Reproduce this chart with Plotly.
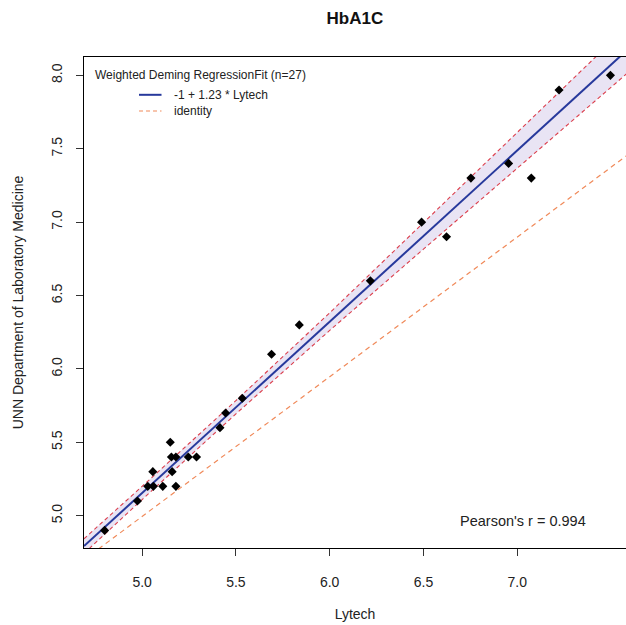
import plotly.graph_objects as go

# ---- data ----
lytech = [4.80, 4.975, 5.03, 5.06, 5.057, 5.11, 5.15, 5.156, 5.18, 5.16, 5.18,
          5.246, 5.29, 5.415, 5.445, 5.534, 5.69, 5.838, 6.217, 6.49, 6.623,
          6.753, 6.954, 7.075, 7.223, 7.497]
unn = [4.9, 5.1, 5.2, 5.2, 5.3, 5.2, 5.5, 5.4, 5.4, 5.3, 5.2,
       5.4, 5.4, 5.6, 5.7, 5.8, 6.1, 6.3, 6.6, 7.0, 6.9,
       7.3, 7.4, 7.3, 7.9, 8.0]

band_x = [4.69, 5.0, 5.5, 6.0, 6.5, 7.0, 7.6]
fit_y = [4.793, 5.155, 5.739, 6.322, 6.906, 7.489, 8.189]
band_upper = [4.843, 5.200, 5.784, 6.382, 6.996, 7.609, 8.349]
band_lower = [4.743, 5.110, 5.694, 6.262, 6.816, 7.369, 8.029]
identity_x = [4.69, 7.58]
identity_y = [4.70, 7.45]

x_ticks = [5.0, 5.5, 6.0, 6.5, 7.0]
y_ticks = [5.0, 5.5, 6.0, 6.5, 7.0, 7.5, 8.0]

title = "HbA1C"
x_title = "Lytech"
y_title = "UNN Department of Laboratory Medicine"
legend_title = "Weighted Deming RegressionFit (n=27)"
fit_label = "-1 + 1.23 * Lytech"
identity_label = "identity"
pearson_label = "Pearson's r = 0.994"

FONT = "Liberation Sans, Arial, sans-serif"
BLUE = "#27399c"
RED = "rgba(215,30,45,0.85)"
ORANGE = "#f08a5a"
FILL = "rgba(215,205,235,0.55)"

fig = go.Figure()

# confidence band fill
fig.add_trace(go.Scatter(x=band_x + band_x[::-1], y=band_upper + band_lower[::-1],
                         fill="toself", fillcolor=FILL, line=dict(width=0),
                         mode="lines", hoverinfo="skip", showlegend=False))
# CI lines
fig.add_trace(go.Scatter(x=band_x, y=band_upper, mode="lines",
                         line=dict(color=RED, width=1.1, dash="4px,3px"), showlegend=False))
fig.add_trace(go.Scatter(x=band_x, y=band_lower, mode="lines",
                         line=dict(color=RED, width=1.1, dash="4px,3px"), showlegend=False))
# identity
fig.add_trace(go.Scatter(x=identity_x, y=identity_y, mode="lines",
                         line=dict(color=ORANGE, width=1.2, dash="5px,4px"), showlegend=False))
# fit
fig.add_trace(go.Scatter(x=band_x, y=fit_y, mode="lines",
                         line=dict(color=BLUE, width=2), showlegend=False))
# points
fig.add_trace(go.Scatter(x=lytech, y=unn, mode="markers",
                         marker=dict(symbol="diamond", size=7, color="black"),
                         showlegend=False))

# manual legend (R-style)
fig.add_annotation(xref="paper", yref="paper", x=0.0166, y=0.963, xanchor="left", yanchor="middle",
                   text=legend_title, showarrow=False, font=dict(size=12, color="#222", family=FONT))
fig.add_shape(type="line", xref="paper", yref="paper", x0=0.1015, x1=0.1430, y0=0.923, y1=0.923,
              line=dict(color=BLUE, width=2))
fig.add_annotation(xref="paper", yref="paper", x=0.163, y=0.923, xanchor="left", yanchor="middle",
                   text=fit_label, showarrow=False, font=dict(size=12, color="#222", family=FONT))
fig.add_shape(type="line", xref="paper", yref="paper", x0=0.1015, x1=0.1430, y0=0.890, y1=0.890,
              line=dict(color=ORANGE, width=1.2, dash="4px,3px"))
fig.add_annotation(xref="paper", yref="paper", x=0.163, y=0.890, xanchor="left", yanchor="middle",
                   text=identity_label, showarrow=False, font=dict(size=12, color="#222", family=FONT))

fig.add_annotation(xref="paper", yref="paper", x=0.929, y=0.056, xanchor="right", yanchor="middle",
                   text=pearson_label, showarrow=False, font=dict(size=14.5, color="#222", family=FONT))

fig.update_layout(
    width=626, height=625,
    margin=dict(l=84, r=0, t=57, b=77),
    paper_bgcolor="white", plot_bgcolor="white",
    font=dict(family=FONT, color="#222", size=14),
    title=dict(text="<b>" + title + "</b>", x=0.567, xanchor="center",
               y=0.971, yanchor="middle", font=dict(size=17, color="#111", family=FONT)),
    showlegend=False,
)
fig.update_xaxes(range=[4.69, 7.58], tickvals=x_ticks, ticktext=[f"{v:.1f}" for v in x_ticks],
                 showgrid=False, zeroline=False, showline=True, linecolor="black", linewidth=1,
                 mirror=True, ticks="outside", ticklen=7, tickcolor="#333",
                 ticklabelstandoff=14, tickfont=dict(size=14, color="#222"),
                 title=dict(text=x_title, standoff=20, font=dict(size=14, color="#222")))
fig.update_yaxes(range=[4.78, 8.125], tickvals=y_ticks, ticktext=[f"{v:.1f}" for v in y_ticks],
                 showgrid=False, zeroline=False, showline=True, linecolor="black", linewidth=1,
                 mirror=True, ticks="outside", ticklen=7, tickcolor="#333", tickangle=-90,
                 ticklabelstandoff=8, tickfont=dict(size=14, color="#222"),
                 title=dict(text=y_title, standoff=22, font=dict(size=14, color="#222")))

fig.write_html("out.html")
